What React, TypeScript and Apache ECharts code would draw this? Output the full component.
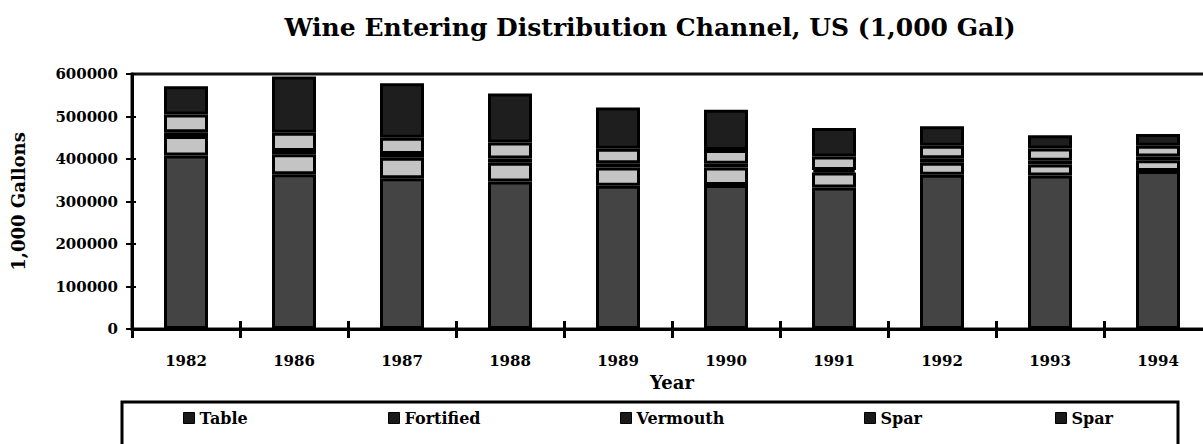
import React, { useEffect, useRef } from "react";
import * as echarts from "echarts";

const years = ["1982", "1986", "1987", "1988", "1989", "1990", "1991", "1992", "1993", "1994"];
const table = [408000, 364000, 355000, 347000, 337000, 339000, 333000, 363000, 361000, 372000];
const fortified = [46000, 47000, 48000, 44000, 43000, 41000, 35000, 28000, 26000, 25000];
const vermouth = [9000, 8000, 9000, 10000, 10000, 9000, 6000, 11000, 9000, 9000];
const spar = [42000, 43000, 38000, 38000, 34000, 32000, 32000, 29000, 29000, 25000];
const spar2 = [66000, 132000, 128000, 115000, 97000, 95000, 67000, 46000, 31000, 28000];
const legendNames = ["Table", "Fortified", "Vermouth", "Spar", "Spar2"];
const legendX = [183, 388, 620, 864, 1055];

const FONT = '"DejaVu Serif", serif';

export default function App() {
  const ref = useRef<HTMLDivElement>(null);
  useEffect(() => {
    if (!ref.current) return;
    const chart = echarts.init(ref.current, null, { renderer: "svg" });
    const mk = (name: string, data: number[], color: string) => ({
      name,
      type: "bar",
      stack: "total",
      data,
      barWidth: 44,
      xAxisIndex: 0,
      yAxisIndex: 0,
      itemStyle: { color, borderColor: "#000", borderWidth: 3 },
    });
    chart.setOption({
      animation: false,
      backgroundColor: "#fff",
      grid: {
        left: 132,
        top: 74,
        right: 0,
        bottom: 115,
        show: true,
        borderColor: "#111",
        borderWidth: 3,
        backgroundColor: "transparent",
      },
      xAxis: [
        {
          type: "category",
          data: years,
          position: "bottom",
          axisLine: { lineStyle: { color: "#000", width: 3 } },
          axisTick: { show: true, length: 9, lineStyle: { color: "#000", width: 3 } },
          axisLabel: { color: "#000", fontFamily: FONT, fontWeight: "bold", fontSize: 15, margin: 24 },
          name: "Year",
          nameLocation: "middle",
          nameGap: 44,
          nameTextStyle: { color: "#000", fontFamily: FONT, fontWeight: "bold", fontSize: 18 },
        },
        {
          type: "category",
          data: years,
          position: "bottom",
          offset: 0,
          axisLine: { show: false },
          axisTick: { show: true, inside: true, length: 8, lineStyle: { color: "#000", width: 3 } },
          axisLabel: { show: false },
        },
      ],
      yAxis: [
        {
          type: "value",
          min: 0,
          max: 600000,
          interval: 100000,
          axisLine: { show: true, lineStyle: { color: "#000", width: 3 } },
          axisTick: { show: true, length: 6, lineStyle: { color: "#000", width: 2 } },
          splitLine: { show: false },
          axisLabel: {
            color: "#000",
            fontFamily: FONT,
            fontWeight: "bold",
            fontSize: 15,
            margin: 14,
            formatter: (v: number) => String(v),
          },
          name: "1,000 Gallons",
          nameLocation: "middle",
          nameRotate: 90,
          nameGap: 105,
          nameTextStyle: { color: "#000", fontFamily: FONT, fontWeight: "bold", fontSize: 18 },
        },
        {
          type: "value",
          min: 0,
          max: 600000,
          interval: 100000,
          position: "left",
          offset: 0,
          axisLine: { show: false },
          axisTick: { show: true, inside: true, length: 4, lineStyle: { color: "#000", width: 2 } },
          axisLabel: { show: false },
          splitLine: { show: false },
        },
      ],
      legend: legendNames.map((n, i) => ({
        data: [n],
        left: legendX[i],
        top: 410,
        padding: 0,
        itemWidth: 11,
        itemHeight: 11,
        icon: "rect",
        selectedMode: false,
        itemStyle: { color: "#1a1a1a", borderColor: "#000", borderWidth: 1 },
        formatter: (name: string) => (name === "Spar2" ? "Spar" : name),
        textStyle: { color: "#000", fontFamily: FONT, fontWeight: "bold", fontSize: 16 },
      })),
      graphic: [
        {
          type: "text",
          x: 650,
          y: 27,
          style: {
            text: "Wine Entering Distribution Channel, US (1,000 Gal)",
            align: "center",
            verticalAlign: "middle",
            font: 'bold 25px "DejaVu Serif", serif',
            fill: "#000",
          },
        },
        {
          type: "rect",
          shape: { x: 122, y: 402, width: 1056, height: 60 },
          style: { fill: "none", stroke: "#000", lineWidth: 3 },
        },
      ],
      series: [
        mk("Table", table, "#444444"),
        mk("Fortified", fortified, "#c4c4c4"),
        mk("Vermouth", vermouth, "#111"),
        mk("Spar", spar, "#c4c4c4"),
        mk("Spar2", spar2, "#1e1e1e"),
      ],
    });
    return () => chart.dispose();
  }, []);
  return (
    <div style={{ position: "fixed", left: 0, top: 0, width: 1203, height: 444, overflow: "hidden" }}>
      <div ref={ref} style={{ width: 1212, height: 444 }} />
    </div>
  );
}
